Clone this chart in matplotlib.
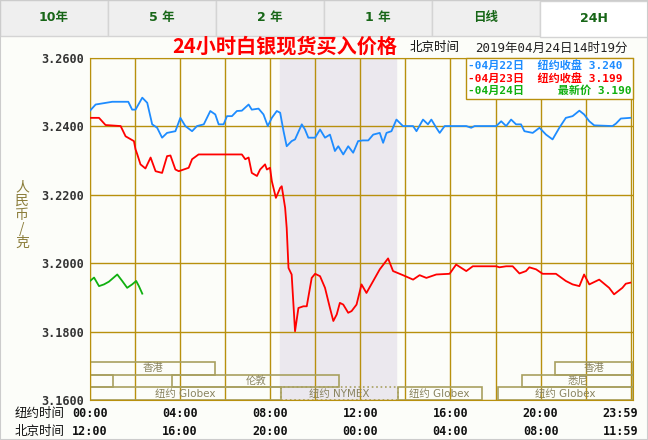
import matplotlib
matplotlib.use("Agg")
import matplotlib.pyplot as plt
from matplotlib.patches import Rectangle

plt.rcParams['font.family'] = ['DejaVu Sans Mono', 'Noto Sans CJK SC']

tabs = ["10年", "5 年", "2 年", "1 年", "日线", "24H"]
yticks = [3.26, 3.24, 3.22, 3.20, 3.18, 3.16]
ny_times = ["00:00", "04:00", "08:00", "12:00", "16:00", "20:00", "23:59"]
bj_times = ["12:00", "16:00", "20:00", "00:00", "04:00", "08:00", "11:59"]
time_hours = [0, 4, 8, 12, 16, 20, 24]

blue_h = [0.0, 0.25, 0.99, 1.70, 1.87, 2.02, 2.32, 2.54, 2.76, 2.98, 3.20, 3.42, 3.79, 4.01, 4.23, 4.53, 4.75,
          5.05, 5.34, 5.56, 5.71, 5.93, 6.08, 6.30, 6.52, 6.74, 7.04, 7.18, 7.48, 7.70, 7.89, 8.07, 8.29, 8.44,
          8.59, 8.73, 8.95, 9.10, 9.40, 9.54, 9.69, 9.99, 10.21, 10.43, 10.65, 10.87, 11.02, 11.24, 11.46, 11.68,
          11.90, 12.10, 12.35, 12.57, 12.86, 13.01, 13.16, 13.38, 13.60, 13.89, 14.34, 14.49, 14.78, 15.00, 15.15,
          15.37, 15.52, 15.74, 16.40, 16.70, 16.92, 17.07, 18.03, 18.25, 18.47, 18.69, 18.91, 19.13, 19.28, 19.65,
          19.95, 20.24, 20.53, 20.83, 21.12, 21.42, 21.72, 21.93, 22.16, 22.38, 23.19, 23.34, 23.56, 23.98]
blue_v = [3.2446, 3.2464, 3.2472, 3.2472, 3.2449, 3.2449, 3.2484, 3.2469, 3.2406, 3.2396, 3.2367, 3.2381, 3.2386,
          3.2425, 3.2401, 3.2386, 3.2401, 3.2406, 3.2445, 3.2435, 3.2406, 3.2406, 3.2430, 3.2430, 3.2445, 3.2446,
          3.2464, 3.2449, 3.2452, 3.2435, 3.2401, 3.2425, 3.2445, 3.2440, 3.2386, 3.2342, 3.2357, 3.2362, 3.2406,
          3.2391, 3.2367, 3.2367, 3.2391, 3.2367, 3.2376, 3.2328, 3.2342, 3.2318, 3.2342, 3.2323, 3.2357, 3.2359,
          3.2359, 3.2376, 3.2381, 3.2352, 3.2381, 3.2386, 3.2420, 3.2401, 3.2401, 3.2386, 3.2420, 3.2406, 3.2420,
          3.2396, 3.2381, 3.2401, 3.2401, 3.2401, 3.2396, 3.2401, 3.2401, 3.2415, 3.2401, 3.2420, 3.2406, 3.2406,
          3.2386, 3.2381, 3.2396, 3.2376, 3.2362, 3.2396, 3.2425, 3.2430, 3.2446, 3.2435, 3.2415, 3.2403, 3.2401,
          3.2408, 3.2423, 3.2425]

red_h = [0.0, 0.40, 0.69, 1.36, 1.58, 1.95, 2.02, 2.10, 2.24, 2.46, 2.69, 2.91, 3.20, 3.42, 3.57, 3.79, 3.94,
         4.38, 4.53, 4.82, 6.74, 6.89, 7.04, 7.18, 7.41, 7.55, 7.77, 7.85, 7.99, 8.07, 8.25, 8.44, 8.51, 8.66,
         8.73, 8.81, 8.95, 9.10, 9.25, 9.47, 9.62, 9.84, 9.99, 10.21, 10.43, 10.65, 10.80, 10.95, 11.09, 11.24,
         11.46, 11.61, 11.83, 12.05, 12.27, 12.57, 12.86, 13.23, 13.45, 13.89, 14.34, 14.63, 14.93, 15.37, 15.96,
         16.25, 16.70, 16.99, 18.03, 18.17, 18.47, 18.76, 19.06, 19.35, 19.50, 19.80, 20.09, 20.68, 21.12, 21.42,
         21.72, 21.93, 22.16, 22.60, 23.04, 23.26, 23.63, 23.78, 23.98]
red_v = [3.2425, 3.2425, 3.2404, 3.2401, 3.2371, 3.2357, 3.2333, 3.2318, 3.2289, 3.2277, 3.2309, 3.2269, 3.2264,
         3.2313, 3.2315, 3.2274, 3.2269, 3.2279, 3.2304, 3.2318, 3.2318, 3.2304, 3.2309, 3.2264, 3.2255, 3.2274,
         3.2289, 3.2274, 3.2279, 3.2240, 3.2191, 3.2220, 3.2225, 3.2162, 3.2103, 3.1986, 3.1967, 3.1801, 3.1869,
         3.1874, 3.1874, 3.1957, 3.1969, 3.1962, 3.1928, 3.1869, 3.1831, 3.1850, 3.1884, 3.1879, 3.1855, 3.1860,
         3.1879, 3.1938, 3.1913, 3.1948, 3.1982, 3.2014, 3.1977, 3.1965, 3.1952, 3.1965, 3.1957, 3.1967, 3.1969,
         3.1996, 3.1977, 3.1991, 3.1991, 3.1988, 3.1991, 3.1991, 3.1970, 3.1977, 3.1988, 3.1982, 3.1969, 3.1969,
         3.1948, 3.1938, 3.1933, 3.1967, 3.1938, 3.1952, 3.1928, 3.1909, 3.1928, 3.1940, 3.1943]

green_h = [0.0, 0.18, 0.40, 0.62, 0.84, 1.21, 1.43, 1.65, 1.87, 2.05, 2.17, 2.32]
green_v = [3.1948, 3.1958, 3.1933, 3.1938, 3.1946, 3.1967, 3.1948, 3.1928, 3.1938, 3.1948, 3.1933, 3.1911]

# exchange sessions: (label, start hour, end hour, row)  row 0 = top
sessions = [("香港", 0.0, 5.55, 0), ("香港", 20.65, 24.1, 0),
            ("", 0.0, 1.0, 1), ("伦敦", 3.66, 11.07, 1), ("悉尼", 19.19, 24.1, 1),
            ("纽约 Globex", 0.0, 8.48, 2), ("纽约 NYMEX", 8.48, 13.65, 2),
            ("纽约 Globex", 13.65, 17.38, 2), ("纽约 Globex", 18.12, 24.1, 2)]

GRID = "#b8900e"
OLIVE = "#a8a060"
W, H = 648, 440
fig = plt.figure(figsize=(6.48, 4.40), dpi=100, facecolor="#fcfdf9")

def fx(px): return px / W
def fy(py): return 1 - py / H

# tabs
for i, t in enumerate(tabs):
    x0 = i * W / 6
    active = (i == 5)
    fig.add_artist(Rectangle((fx(x0), fy(36 if not active else 37)), fx(W / 6), fy(0) - fy(36),
                             facecolor="#ffffff" if active else "#efefef", edgecolor="#d4d4d4", lw=1))
    fig.text(fx(x0 + W / 12), fy(18), t, ha="center", va="center", fontsize=9, fontweight="bold",
             color="#176617", family=["DejaVu Sans", "Noto Sans CJK SC"])

ax = fig.add_axes([fx(90), fy(400), fx(633 - 90), fy(58) - fy(400)])
ax.set_facecolor("#fcfdf9")
ax.set_xlim(0, 24.1)
ax.set_ylim(3.16, 3.26)
ax.axvspan(8.45, 13.6, color="#ebe8ee", zorder=0)
for h in range(0, 25, 2):
    ax.axvline(h, color=GRID, lw=1, zorder=1)
for v in yticks:
    ax.axhline(v, color=GRID, lw=1, zorder=1)
for s in ax.spines.values():
    s.set_color(GRID)
ax.set_xticks([])
ax.set_yticks(yticks)
ax.set_yticklabels([f"{v:.4f}" for v in yticks], fontsize=8.5, fontweight="bold", color="#333333")
ax.tick_params(axis="y", length=0, pad=4)

row_h = 0.0037
for lab, a, b, r in sessions:
    y0 = 3.16 + (2 - r) * row_h
    ls = ":" if "NYMEX" in lab else "-"
    ax.add_patch(Rectangle((a, y0), b - a, row_h, fill=False, edgecolor=OLIVE, lw=1.2, ls=ls, zorder=2))
    if lab:
        ax.text((a + b) / 2, y0 + row_h / 2, lab, ha="center", va="center", fontsize=7.5, color="#8a8460",
                family=["DejaVu Sans", "Noto Sans CJK SC"], zorder=3)

ax.plot(blue_h, blue_v, color="#1e8cff", lw=1.3, zorder=4)
ax.plot(red_h, red_v, color="#ff0000", lw=1.3, zorder=4)
ax.plot(green_h, green_v, color="#10b010", lw=1.3, zorder=4)

# legend box
fig.add_artist(Rectangle((fx(466), fy(99)), fx(633 - 466), fy(58) - fy(99), facecolor="white",
                         edgecolor=GRID, lw=1, zorder=5))
leg = [("-04月22日  纽约收盘 3.240", "#1e8cff"), ("-04月23日  纽约收盘 3.199", "#ff0000"),
       ("-04月24日     最新价 3.190", "#10b010")]
for i, (t, c) in enumerate(leg):
    fig.text(fx(468), fy(65 + i * 13), t, ha="left", va="center", fontsize=8, fontweight="bold",
             color=c, zorder=6)

fig.text(fx(285), fy(46), "24小时白银现货买入价格", ha="center", va="center", fontsize=14.5,
         fontweight="bold", color="#ff0000", family=["Noto Sans CJK SC"])
fig.text(fx(410), fy(48), "北京时间", ha="left", va="center", fontsize=9, color="#111111")
fig.text(fx(475), fy(48), "2019年04月24日14时19分", ha="left", va="center", fontsize=9, color="#222222")

fig.text(fx(22), fy(215), "人\n民\n币\n/\n克", ha="center", va="center", fontsize=10, color="#8b7d3a",
         family=["Noto Sans CJK SC"], linespacing=1.0)

fig.text(fx(15), fy(413), "纽约时间", ha="left", va="center", fontsize=9, color="#111111")
fig.text(fx(15), fy(431), "北京时间", ha="left", va="center", fontsize=9, color="#111111")
for h, a, b in zip(time_hours, ny_times, bj_times):
    xpos = ax.transData.transform((h, 0))[0] / fig.bbox.width
    ha = "right" if h == 24 else ("left" if h == 0 else "center")
    if h == 0:
        xpos = fx(72)
    if h == 24:
        xpos = fx(638)
    fig.text(xpos, fy(413), a, ha=ha, va="center", fontsize=8.5, fontweight="bold", color="#111111")
    fig.text(xpos, fy(431), b, ha=ha, va="center", fontsize=8.5, fontweight="bold", color="#111111")

fig.add_artist(Rectangle((0, 0), 1, 1, fill=False, edgecolor="#cccccc", lw=1.5))
fig.savefig("out.png", dpi=100, facecolor=fig.get_facecolor())
